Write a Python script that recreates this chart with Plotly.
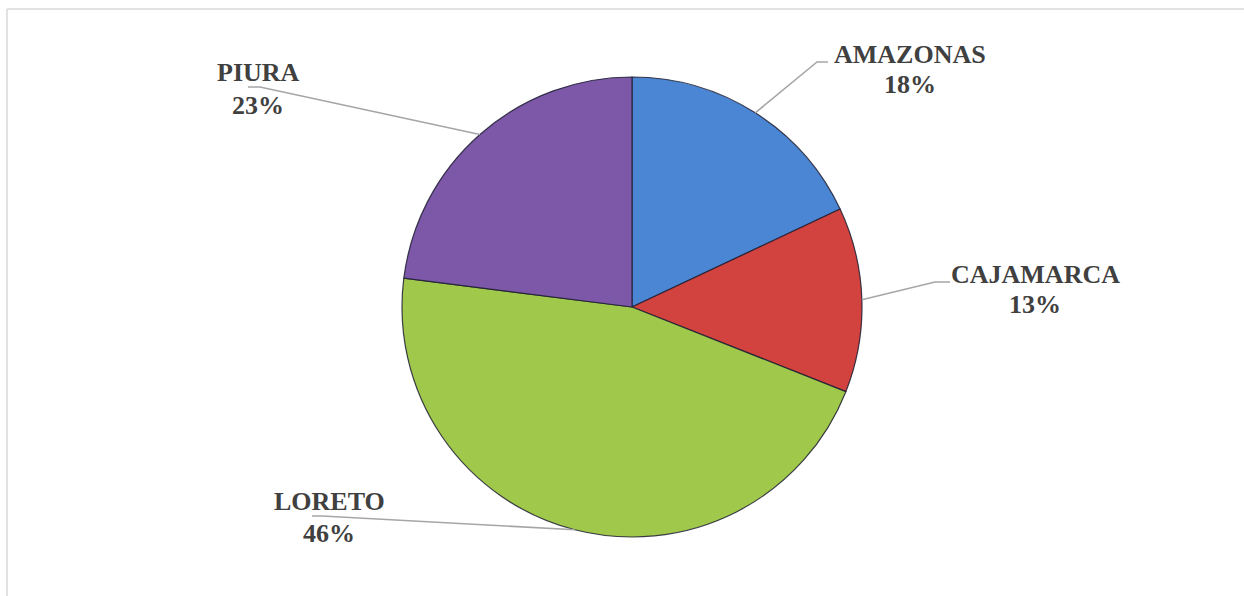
import math
import plotly.graph_objects as go

# Share of cases by region (percent)
regions = ["AMAZONAS", "CAJAMARCA", "LORETO", "PIURA"]
shares = [18, 13, 46, 23]
slice_colors = ["#4a86d4", "#d2423e", "#a0c84a", "#7d58a8"]

W, H = 1244, 596
CX, CY, R = 632, 307, 230  # pie centre and radius in pixels

# label placement: (text centre x, name y, percent y, elbow x, elbow y, tail x)
label_layout = {
    "AMAZONAS": (910, 54, 85, 817, 62, 828),
    "CAJAMARCA": (1035, 274, 304, 935, 282, 950),
    "LORETO": (329, 502, 533, 322, 516, 312),
    "PIURA": (258, 73, 105, 260, 87, 248),
}


def px(x):
    return x / W


def py(y):
    return 1 - y / H


fig = go.Figure(
    go.Pie(
        labels=regions,
        values=shares,
        sort=False,
        direction="clockwise",
        rotation=0,
        marker=dict(colors=slice_colors, line=dict(color="rgba(30,30,50,0.85)", width=1.2)),
        textinfo="none",
        hoverinfo="label+percent",
        showlegend=False,
        domain=dict(x=[px(CX - R), px(CX + R)], y=[py(CY + R), py(CY - R)]),
    )
)

shapes = []
annotations = []
total = sum(shares)
cum = 0
font = dict(family="Liberation Serif", size=26, color="#404040")
for name, val in zip(regions, shares):
    mid = (cum + val / 2) / total * 2 * math.pi
    cum += val
    ex = CX + R * math.sin(mid)
    ey = CY - R * math.cos(mid)
    tx, ny, pyy, bx, by, tail = label_layout[name]
    path = f"M {px(ex)} {py(ey)} L {px(bx)} {py(by)} L {px(tail)} {py(by)}"
    shapes.append(dict(type="path", xref="paper", yref="paper", path=path,
                       line=dict(color="#a6a6a6", width=1.6)))
    annotations.append(dict(x=px(tx), y=py(ny), xref="paper", yref="paper",
                            text=f"<b>{name}</b>", showarrow=False, font=font,
                            xanchor="center", yanchor="middle"))
    annotations.append(dict(x=px(tx), y=py(pyy), xref="paper", yref="paper",
                            text=f"<b>{round(val / total * 100)}%</b>", showarrow=False,
                            font=font, xanchor="center", yanchor="middle"))

# chart frame: only the top and left edges fall inside the page
frame = dict(color="#d9d9d9", width=1.5)
shapes.append(dict(type="line", xref="paper", yref="paper",
                   x0=px(7), y0=py(9), x1=1.0, y1=py(9), line=frame, layer="below"))
shapes.append(dict(type="line", xref="paper", yref="paper",
                   x0=px(7), y0=py(9), x1=px(7), y1=0.0, line=frame, layer="below"))

fig.update_layout(
    width=W,
    height=H,
    margin=dict(l=0, r=0, t=0, b=0),
    paper_bgcolor="white",
    plot_bgcolor="white",
    shapes=shapes,
    annotations=annotations,
)

fig.write_html("out.html")
